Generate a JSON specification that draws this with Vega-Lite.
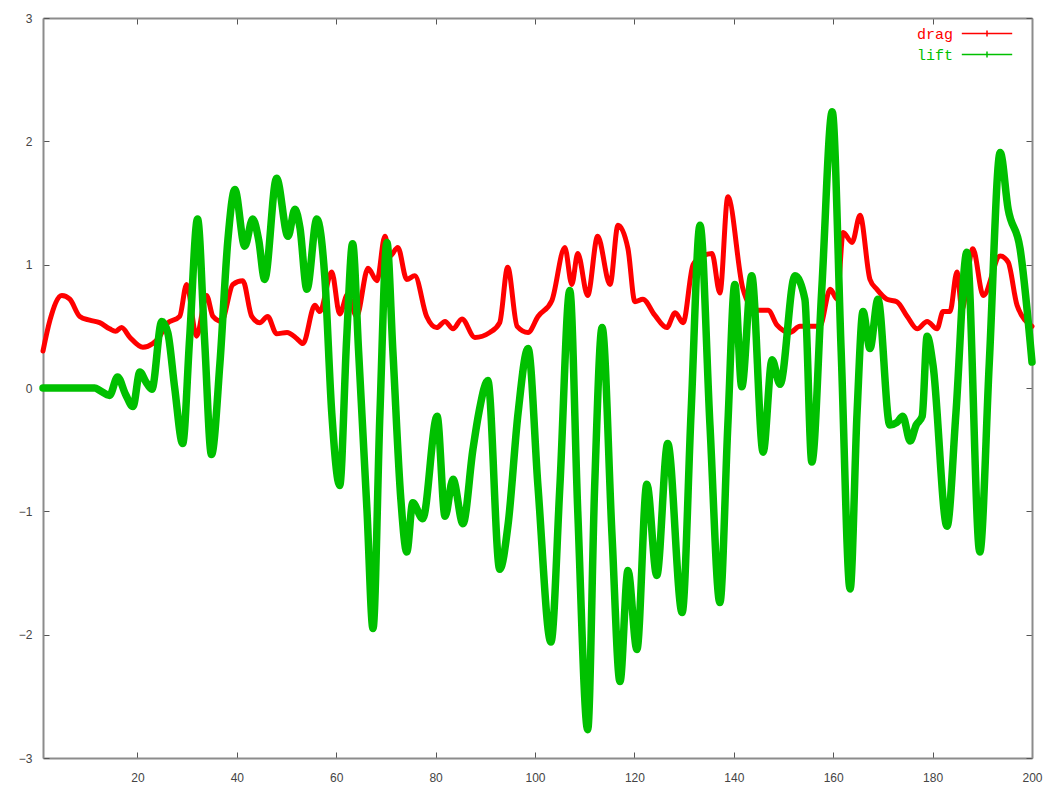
{
"$schema": "https://vega.github.io/schema/vega-lite/v6.json",
"width": 989, "height": 740,
"autosize": {"type": "none"},
"padding": {"left": 43, "top": 18, "right": 18, "bottom": 38},
"background": "white",
"config": {
 "view": {"stroke": null},
 "axis": {"grid": false, "domainColor": "#8c8c8c", "domainWidth": 2, "tickColor": "#555555", "tickWidth": 1, "tickSize": -6, "labelFont": "Liberation Sans", "labelFontSize": 12, "labelColor": "#444444", "title": null, "labelFlush": false}
},
"datasets": {
"drag": [
{"x":1,"y":0.30,"series":"drag"},{"x":2.4,"y":0.55,"series":"drag"},{"x":4.8,"y":0.75,"series":"drag"},{"x":6.4,"y":0.72,"series":"drag"},{"x":8.4,"y":0.58,"series":"drag"},{"x":10.4,"y":0.55,"series":"drag"},{"x":12.4,"y":0.53,"series":"drag"},{"x":14.4,"y":0.48,"series":"drag"},{"x":15.6,"y":0.46,"series":"drag"},{"x":16.8,"y":0.49,"series":"drag"},{"x":18.5,"y":0.41,"series":"drag"},{"x":21.1,"y":0.33,"series":"drag"},{"x":23.1,"y":0.36,"series":"drag"},{"x":24.5,"y":0.42,"series":"drag"},{"x":25.9,"y":0.52,"series":"drag"},{"x":28.5,"y":0.58,"series":"drag"},{"x":29.9,"y":0.84,"series":"drag"},{"x":31.9,"y":0.42,"series":"drag"},{"x":33.9,"y":0.75,"series":"drag"},{"x":35.2,"y":0.58,"series":"drag"},{"x":36.9,"y":0.54,"series":"drag"},{"x":39.2,"y":0.84,"series":"drag"},{"x":41.2,"y":0.87,"series":"drag"},{"x":43.0,"y":0.58,"series":"drag"},{"x":44.6,"y":0.53,"series":"drag"},{"x":46.2,"y":0.58,"series":"drag"},{"x":48.0,"y":0.44,"series":"drag"},{"x":50.1,"y":0.45,"series":"drag"},{"x":52.1,"y":0.40,"series":"drag"},{"x":53.3,"y":0.36,"series":"drag"},{"x":55.7,"y":0.67,"series":"drag"},{"x":56.7,"y":0.62,"series":"drag"},{"x":59.1,"y":0.94,"series":"drag"},{"x":60.7,"y":0.60,"series":"drag"},{"x":62.3,"y":0.76,"series":"drag"},{"x":64.1,"y":0.58,"series":"drag"},{"x":66.4,"y":0.97,"series":"drag"},{"x":68.2,"y":0.87,"series":"drag"},{"x":69.8,"y":1.23,"series":"drag"},{"x":70.8,"y":1.07,"series":"drag"},{"x":72.4,"y":1.14,"series":"drag"},{"x":74.2,"y":0.88,"series":"drag"},{"x":75.8,"y":0.91,"series":"drag"},{"x":78.2,"y":0.58,"series":"drag"},{"x":80.2,"y":0.49,"series":"drag"},{"x":81.9,"y":0.54,"series":"drag"},{"x":83.5,"y":0.48,"series":"drag"},{"x":85.3,"y":0.56,"series":"drag"},{"x":87.9,"y":0.41,"series":"drag"},{"x":90.9,"y":0.45,"series":"drag"},{"x":92.9,"y":0.53,"series":"drag"},{"x":94.5,"y":0.98,"series":"drag"},{"x":96.4,"y":0.50,"series":"drag"},{"x":98.6,"y":0.45,"series":"drag"},{"x":100.6,"y":0.58,"series":"drag"},{"x":103.4,"y":0.71,"series":"drag"},{"x":106.0,"y":1.14,"series":"drag"},{"x":107.4,"y":0.84,"series":"drag"},{"x":108.6,"y":1.09,"series":"drag"},{"x":110.6,"y":0.75,"series":"drag"},{"x":112.6,"y":1.23,"series":"drag"},{"x":115.1,"y":0.84,"series":"drag"},{"x":116.7,"y":1.32,"series":"drag"},{"x":118.7,"y":1.13,"series":"drag"},{"x":120.1,"y":0.70,"series":"drag"},{"x":121.7,"y":0.72,"series":"drag"},{"x":124.1,"y":0.59,"series":"drag"},{"x":126.5,"y":0.49,"series":"drag"},{"x":128.2,"y":0.61,"series":"drag"},{"x":129.8,"y":0.53,"series":"drag"},{"x":131.8,"y":1.00,"series":"drag"},{"x":133.8,"y":1.07,"series":"drag"},{"x":135.6,"y":1.09,"series":"drag"},{"x":137.2,"y":0.77,"series":"drag"},{"x":138.8,"y":1.55,"series":"drag"},{"x":141.8,"y":0.81,"series":"drag"},{"x":144.3,"y":0.63,"series":"drag"},{"x":146.9,"y":0.63,"series":"drag"},{"x":148.7,"y":0.51,"series":"drag"},{"x":151.3,"y":0.45,"series":"drag"},{"x":153.3,"y":0.50,"series":"drag"},{"x":157.3,"y":0.50,"series":"drag"},{"x":159.4,"y":0.80,"series":"drag"},{"x":160.8,"y":0.72,"series":"drag"},{"x":162.0,"y":1.26,"series":"drag"},{"x":163.8,"y":1.18,"series":"drag"},{"x":165.4,"y":1.40,"series":"drag"},{"x":167.4,"y":0.88,"series":"drag"},{"x":168.8,"y":0.80,"series":"drag"},{"x":170.8,"y":0.72,"series":"drag"},{"x":172.8,"y":0.70,"series":"drag"},{"x":174.9,"y":0.58,"series":"drag"},{"x":176.9,"y":0.48,"series":"drag"},{"x":178.9,"y":0.54,"series":"drag"},{"x":180.9,"y":0.48,"series":"drag"},{"x":182.1,"y":0.62,"series":"drag"},{"x":183.5,"y":0.62,"series":"drag"},{"x":184.9,"y":0.94,"series":"drag"},{"x":185.9,"y":0.64,"series":"drag"},{"x":188.1,"y":1.13,"series":"drag"},{"x":190.2,"y":0.75,"series":"drag"},{"x":193.6,"y":1.07,"series":"drag"},{"x":195.2,"y":1.02,"series":"drag"},{"x":197.0,"y":0.67,"series":"drag"},{"x":200,"y":0.50,"series":"drag"}
],
"lift": [
{"x":1,"y":0,"series":"lift"},{"x":11.4,"y":0,"series":"lift"},{"x":12.4,"y":-0.02,"series":"lift"},{"x":14.4,"y":-0.06,"series":"lift"},{"x":16.0,"y":0.09,"series":"lift"},{"x":17.6,"y":-0.05,"series":"lift"},{"x":19.1,"y":-0.15,"series":"lift"},{"x":20.5,"y":0.13,"series":"lift"},{"x":21.7,"y":0.05,"series":"lift"},{"x":22.9,"y":-0.01,"series":"lift"},{"x":24.9,"y":0.54,"series":"lift"},{"x":26.1,"y":0.45,"series":"lift"},{"x":27.5,"y":0.0,"series":"lift"},{"x":29.1,"y":-0.45,"series":"lift"},{"x":30.5,"y":0.4,"series":"lift"},{"x":32.1,"y":1.37,"series":"lift"},{"x":33.5,"y":0.4,"series":"lift"},{"x":34.9,"y":-0.54,"series":"lift"},{"x":36.6,"y":0.2,"series":"lift"},{"x":38.2,"y":1.2,"series":"lift"},{"x":39.6,"y":1.61,"series":"lift"},{"x":41.6,"y":1.15,"series":"lift"},{"x":43.2,"y":1.37,"series":"lift"},{"x":44.4,"y":1.2,"series":"lift"},{"x":45.6,"y":0.88,"series":"lift"},{"x":48.0,"y":1.70,"series":"lift"},{"x":50.3,"y":1.23,"series":"lift"},{"x":51.7,"y":1.45,"series":"lift"},{"x":52.7,"y":1.3,"series":"lift"},{"x":54.1,"y":0.80,"series":"lift"},{"x":56.1,"y":1.37,"series":"lift"},{"x":57.7,"y":0.9,"series":"lift"},{"x":59.1,"y":-0.2,"series":"lift"},{"x":60.7,"y":-0.79,"series":"lift"},{"x":62.1,"y":0.4,"series":"lift"},{"x":63.3,"y":1.17,"series":"lift"},{"x":64.5,"y":0.3,"series":"lift"},{"x":66.2,"y":-1.0,"series":"lift"},{"x":67.4,"y":-1.95,"series":"lift"},{"x":68.8,"y":-0.2,"series":"lift"},{"x":70.2,"y":1.18,"series":"lift"},{"x":71.4,"y":0.3,"series":"lift"},{"x":73.0,"y":-0.9,"series":"lift"},{"x":74.2,"y":-1.33,"series":"lift"},{"x":75.4,"y":-0.93,"series":"lift"},{"x":77.4,"y":-1.06,"series":"lift"},{"x":80.3,"y":-0.23,"series":"lift"},{"x":81.9,"y":-1.04,"series":"lift"},{"x":83.5,"y":-0.74,"series":"lift"},{"x":85.5,"y":-1.10,"series":"lift"},{"x":87.5,"y":-0.5,"series":"lift"},{"x":88.7,"y":-0.2,"series":"lift"},{"x":90.5,"y":0.06,"series":"lift"},{"x":92.9,"y":-1.47,"series":"lift"},{"x":94.6,"y":-1.1,"series":"lift"},{"x":96.6,"y":-0.2,"series":"lift"},{"x":98.6,"y":0.32,"series":"lift"},{"x":100.6,"y":-0.8,"series":"lift"},{"x":103.2,"y":-2.06,"series":"lift"},{"x":105.0,"y":-0.8,"series":"lift"},{"x":107.0,"y":0.79,"series":"lift"},{"x":108.6,"y":-1.0,"series":"lift"},{"x":110.6,"y":-2.77,"series":"lift"},{"x":112.0,"y":-0.8,"series":"lift"},{"x":113.5,"y":0.49,"series":"lift"},{"x":115.5,"y":-1.2,"series":"lift"},{"x":117.1,"y":-2.38,"series":"lift"},{"x":118.7,"y":-1.48,"series":"lift"},{"x":120.5,"y":-2.12,"series":"lift"},{"x":122.5,"y":-0.78,"series":"lift"},{"x":124.5,"y":-1.52,"series":"lift"},{"x":126.7,"y":-0.45,"series":"lift"},{"x":129.6,"y":-1.82,"series":"lift"},{"x":131.4,"y":-0.2,"series":"lift"},{"x":133.2,"y":1.32,"series":"lift"},{"x":135.2,"y":-0.3,"series":"lift"},{"x":137.2,"y":-1.74,"series":"lift"},{"x":138.8,"y":-0.3,"series":"lift"},{"x":140.2,"y":0.84,"series":"lift"},{"x":141.6,"y":0.01,"series":"lift"},{"x":143.6,"y":0.91,"series":"lift"},{"x":145.9,"y":-0.52,"series":"lift"},{"x":147.7,"y":0.23,"series":"lift"},{"x":149.3,"y":0.03,"series":"lift"},{"x":152.3,"y":0.91,"series":"lift"},{"x":154.3,"y":0.72,"series":"lift"},{"x":155.7,"y":-0.60,"series":"lift"},{"x":157.7,"y":0.8,"series":"lift"},{"x":159.8,"y":2.24,"series":"lift"},{"x":161.6,"y":0.3,"series":"lift"},{"x":163.4,"y":-1.63,"series":"lift"},{"x":164.8,"y":-0.2,"series":"lift"},{"x":166.0,"y":0.62,"series":"lift"},{"x":167.4,"y":0.32,"series":"lift"},{"x":169.0,"y":0.72,"series":"lift"},{"x":171.4,"y":-0.30,"series":"lift"},{"x":172.8,"y":-0.28,"series":"lift"},{"x":174.0,"y":-0.23,"series":"lift"},{"x":175.5,"y":-0.43,"series":"lift"},{"x":176.7,"y":-0.3,"series":"lift"},{"x":177.9,"y":-0.23,"series":"lift"},{"x":178.9,"y":0.42,"series":"lift"},{"x":180.1,"y":0.18,"series":"lift"},{"x":182.9,"y":-1.12,"series":"lift"},{"x":184.7,"y":-0.2,"series":"lift"},{"x":186.9,"y":1.10,"series":"lift"},{"x":189.5,"y":-1.33,"series":"lift"},{"x":191.4,"y":0.2,"series":"lift"},{"x":193.6,"y":1.91,"series":"lift"},{"x":195.2,"y":1.45,"series":"lift"},{"x":197.6,"y":1.13,"series":"lift"},{"x":200,"y":0.21,"series":"lift"}
]
},
"layer": [
 {
  "data": {"name": "drag"},
  "mark": {"type": "line", "strokeWidth": 5, "interpolate": "monotone", "strokeJoin": "round", "strokeCap": "round"},
  "encoding": {
   "x": {"field": "x", "type": "quantitative", "scale": {"domain": [1, 200], "nice": false, "zero": false}, "axis": {"orient": "bottom", "values": [20,40,60,80,100,120,140,160,180,200], "labelPadding": 20}},
   "y": {"field": "y", "type": "quantitative", "scale": {"domain": [-3, 3], "nice": false}, "axis": {"orient": "left", "values": [-3,-2,-1,0,1,2,3], "labelPadding": 17}},
   "color": {"field": "series", "type": "nominal", "scale": {"domain": ["drag", "lift"], "range": ["#ff0000", "#00c000"]},
    "legend": {"orient": "none", "legendX": 870, "legendY": 8, "title": null, "labelFont": "Liberation Mono", "labelFontSize": 15, "symbolType": "M-4.2,0H4.2M0,-0.5V0.5M-0.5,0H0.5", "symbolSize": 144, "symbolStrokeWidth": 1.5, "rowPadding": 5,
     "encode": {"labels": {"update": {"fill": {"signal": "datum.value === 'drag' ? '#ff0000' : '#00c000'"}, "x": {"value": 40}, "align": {"value": "right"}}}, "symbols": {"update": {"x": {"value": 74}}}}}}
  }
 },
 {
  "data": {"name": "lift"},
  "mark": {"type": "line", "strokeWidth": 7.5, "interpolate": "monotone", "strokeJoin": "round", "strokeCap": "round"},
  "encoding": {
   "x": {"field": "x", "type": "quantitative", "scale": {"domain": [1, 200], "nice": false, "zero": false}, "axis": {"orient": "top", "values": [20,40,60,80,100,120,140,160,180,200], "labels": false}},
   "y": {"field": "y", "type": "quantitative", "scale": {"domain": [-3, 3], "nice": false}, "axis": {"orient": "right", "values": [-3,-2,-1,0,1,2,3], "labels": false}},
   "color": {"field": "series", "type": "nominal", "scale": {"domain": ["drag", "lift"], "range": ["#ff0000", "#00c000"]},
    "legend": {"orient": "none", "legendX": 870, "legendY": 8, "title": null, "labelFont": "Liberation Mono", "labelFontSize": 15, "symbolType": "M-4.2,0H4.2M0,-0.5V0.5M-0.5,0H0.5", "symbolSize": 144, "symbolStrokeWidth": 1.5, "rowPadding": 5,
     "encode": {"labels": {"update": {"fill": {"signal": "datum.value === 'drag' ? '#ff0000' : '#00c000'"}, "x": {"value": 40}, "align": {"value": "right"}}}, "symbols": {"update": {"x": {"value": 74}}}}}}
  }
 }
],
"resolve": {"axis": {"x": "independent", "y": "independent"}}
}
